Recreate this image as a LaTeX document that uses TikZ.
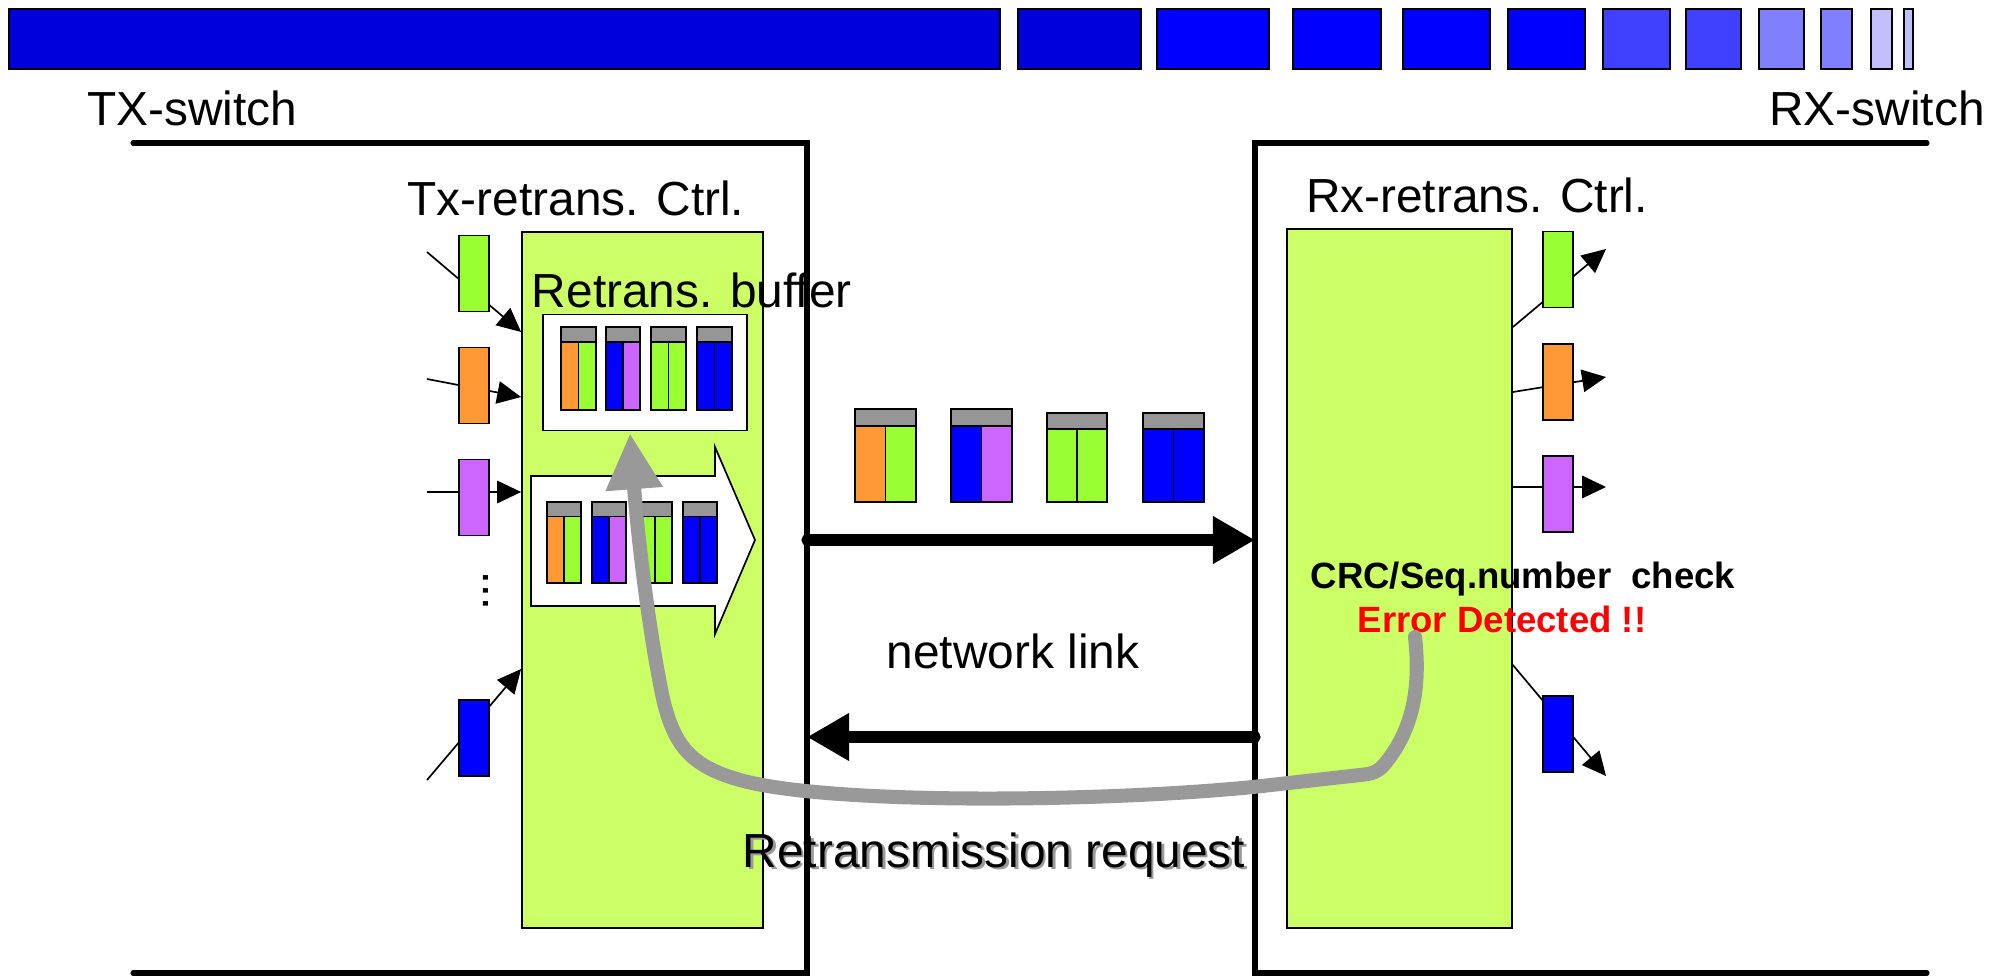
\documentclass[tikz,border=0pt]{standalone}
\usepackage{fontspec}
\setmainfont{Liberation Sans}
\usetikzlibrary{arrows.meta, positioning, calc}
\definecolor{bitDeep}{HTML}{0000DD}
\definecolor{bitBlue}{HTML}{0000FF}
\definecolor{bitMid}{HTML}{4040FF}
\definecolor{bitLight}{HTML}{8080FF}
\definecolor{bitPale}{HTML}{C0C0FF}
\definecolor{ctrlGreen}{HTML}{CCFF66}
\definecolor{pktGreen}{HTML}{99FF33}
\definecolor{pktOrange}{HTML}{FF9933}
\definecolor{pktPurple}{HTML}{CC66FF}
\definecolor{pktBlue}{HTML}{0000FF}
\definecolor{pktGray}{HTML}{969696}
\definecolor{reqGray}{HTML}{999999}
\definecolor{errRed}{HTML}{FF0000}

\begin{document}
\begin{tikzpicture}[x=0.0125cm,y=-0.0125cm,
  frame/.style={line width=1.8pt,line cap=round,line join=miter},
  bitline/.style={draw=black,line width=0.7pt},
  pktline/.style={draw=black,line width=0.6pt},
  ctrlbox/.style={draw,line width=0.6pt,fill=ctrlGreen,inner sep=0pt},
  cell/.style={draw,line width=0.6pt,minimum width=0.375cm,minimum height=0.95cm,inner sep=0pt},
  feed/.style={line width=0.6pt,-{Triangle[length=8.5pt,width=8pt]}},
  link/.style={line width=4pt,line cap=round,-{Triangle[length=15pt,width=16pt]}},
  retry/.style={draw=reqGray,line width=5pt,line cap=round,-{Triangle[length=20pt,width=19pt]}},
  big/.style={font=\fontsize{17}{20}\selectfont},
  note/.style={font=\fontsize{13}{15}\selectfont\bfseries}]
\useasboundingbox (0,0) rectangle (2006,976);
\newcommand{\bitcell}[3]{\draw[bitline,fill=#3] (#1,9) rectangle (#2,69);}
\newcommand{\pkt}[6]{%
  \draw[pktline,fill=#5] (#1,#2) rectangle (#1+#3/2,#2+#4);
  \draw[pktline,fill=#6] (#1+#3/2,#2) rectangle (#1+#3,#2+#4);
  \draw[pktline,fill=pktGray] (#1,#2) rectangle (#1+#3,#2+0.18*#4);
}
\bitcell{9}{1000}{bitDeep}
\bitcell{1018}{1141}{bitDeep}
\bitcell{1157}{1269}{bitBlue}
\bitcell{1293}{1381}{bitBlue}
\bitcell{1403}{1490}{bitBlue}
\bitcell{1508}{1585}{bitBlue}
\bitcell{1603}{1670}{bitMid}
\bitcell{1686}{1741}{bitMid}
\bitcell{1759}{1804}{bitLight}
\bitcell{1821}{1852}{bitLight}
\bitcell{1871}{1892}{bitPale}
\bitcell{1904}{1913}{bitPale}
\node[big,anchor=base] (txswitch) at (192,125) {TX-switch};
\node[big,anchor=base] (rxswitch) at (1877,125) {RX-switch};
\draw[frame] (133,143) -- (807,143) -- (807,973) -- (133,973);
\draw[frame] (1927,143) -- (1255,143) -- (1255,973) -- (1927,973);
\node[big,anchor=base] (txctrllbl) at (576,215) {Tx-retrans. Ctrl.};
\node[big,anchor=base] (rxctrllbl) at (1477,212) {Rx-retrans. Ctrl.};
\node[ctrlbox,minimum width=3.0125cm,minimum height=8.7cm] (txctrl) at (642.5,580) {};
\node[ctrlbox,minimum width=2.8125cm,minimum height=8.7375cm] (rxctrl) at (1399.5,578.5) {};
\coordinate (inGreen) at (427,252);
\coordinate (inOrange) at (427,379);
\coordinate (inPurple) at (427,492);
\coordinate (inBlue) at (427,780);
\draw[feed] (inGreen) -- (txctrl.west |- 0,332);
\draw[feed] (inOrange) -- (txctrl.west |- 0,397);
\draw[feed] (inPurple) -- (txctrl.west |- 0,492);
\draw[feed] (inBlue) -- (txctrl.west |- 0,669);
\node[cell,fill=pktGreen] (srcGreen) at (474,273.5) {};
\node[cell,fill=pktOrange] (srcOrange) at (474,385.5) {};
\node[cell,fill=pktPurple] (srcPurple) at (474,497.5) {};
\node[cell,fill=pktBlue] (srcBlue) at (474,738) {};
\node[big,rotate=90] (srcMore) at (486,591) {...};
\coordinate (outGreen) at (1606,249);
\coordinate (outOrange) at (1606,377);
\coordinate (outPurple) at (1606,487);
\coordinate (outBlue) at (1606,776);
\draw[feed] (rxctrl.east |- 0,327) -- (outGreen);
\draw[feed] (rxctrl.east |- 0,392) -- (outOrange);
\draw[feed] (rxctrl.east |- 0,487) -- (outPurple);
\draw[feed] (rxctrl.east |- 0,665) -- (outBlue);
\node[cell,fill=pktGreen] (dstGreen) at (1558,269.5) {};
\node[cell,fill=pktOrange] (dstOrange) at (1558,382) {};
\node[cell,fill=pktPurple] (dstPurple) at (1558,494) {};
\node[cell,fill=pktBlue] (dstBlue) at (1558,734) {};
\node[draw,line width=0.6pt,fill=white,minimum width=2.55cm,minimum height=1.45cm,inner sep=0pt] (bufbox) at (645,372.5) {};
\node[big,anchor=base west] (buflbl) at (522,307) {Retrans. buffer};
\pkt{561}{327}{35}{83}{pktOrange}{pktGreen}
\pkt{606}{327}{34}{83}{pktBlue}{pktPurple}
\pkt{651}{327}{35}{83}{pktGreen}{pktGreen}
\pkt{697}{327}{35}{83}{pktBlue}{pktBlue}
\draw[line width=0.6pt,fill=white] (531,476) -- (715,476) -- (715,447) -- (755,540) -- (715,634) -- (715,606) -- (531,606) -- cycle;
\pkt{547}{502}{34}{81}{pktOrange}{pktGreen}
\pkt{592}{502}{34}{81}{pktBlue}{pktPurple}
\pkt{638}{502}{34}{81}{pktGreen}{pktGreen}
\pkt{683}{502}{34}{81}{pktBlue}{pktBlue}
\pkt{855}{409}{61}{93}{pktOrange}{pktGreen}
\pkt{951}{409}{61}{93}{pktBlue}{pktPurple}
\pkt{1047}{413}{60}{89}{pktGreen}{pktGreen}
\pkt{1143}{413}{61}{89}{pktBlue}{pktBlue}
\coordinate (txportA) at (807,540);
\coordinate (rxportA) at (1255,540);
\coordinate (rxportB) at (1255,737);
\coordinate (txportB) at (807,737);
\draw[link] (txportA) -- (rxportA);
\draw[link] (rxportB) -- (txportB);
\node[big,anchor=base] (linklbl) at (1013,668) {network link};
\node[big,anchor=base,text=reqGray] (reqshadow) at (996.5,869.5) {Retransmission request};
\node[big,anchor=base] (reqlbl) at (994,867) {Retransmission request};
\node[note,anchor=base] (crclbl) at (1523,588) {CRC/Seq.number\ \ check};
\node[note,anchor=base,text=errRed] (errlbl) at (1502,632) {Error Detected !!};
\coordinate (errsrc) at (1415,637);
\coordinate (buftip) at (630,433);
\draw[retry] (errsrc) .. controls (1421,690) and (1412,732) .. (1383,766) .. controls (1376,773) and (1370,774) .. (1360,775) -- (1253,787) .. controls (1100,802) and (830,805) .. (740,780) .. controls (690,766) and (675,745) .. (664,703) .. controls (650,640) and (638,540) .. (buftip);
\end{tikzpicture}
\end{document}
